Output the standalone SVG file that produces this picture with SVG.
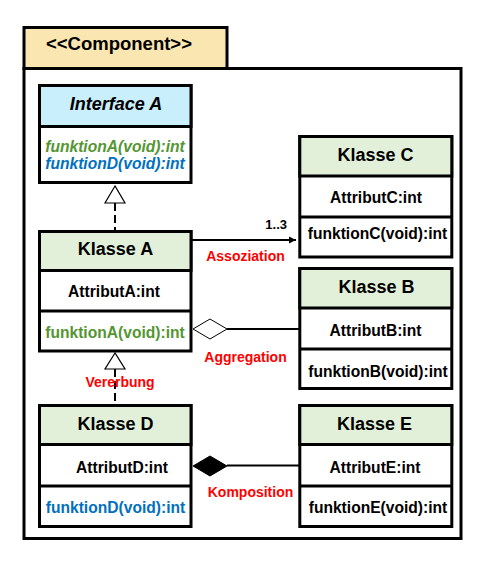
<svg xmlns="http://www.w3.org/2000/svg" width="480" height="564" viewBox="0 0 480 564">
<style>
text{font-family:"Liberation Sans",Arial,sans-serif;font-weight:bold;text-anchor:middle}
.box{fill:#fff;stroke:#000;stroke-width:3}
.hdr{fill:#E2F0D9;stroke:#000;stroke-width:3}
.sep{stroke:#000;stroke-width:3}
.title{font-size:18px;fill:#000}
.body{font-size:15.6px;fill:#000}
.green{fill:#549632}
.blue{fill:#0070C0}
.lbl{font-size:14px;fill:#FF0000}
.ln{stroke:#000;stroke-width:2;fill:none}
.dash{stroke:#000;stroke-width:2;stroke-dasharray:8 4;fill:none}
</style>
<defs>
<marker id="arr" markerWidth="8" markerHeight="8" refX="7" refY="4" orient="auto" markerUnits="userSpaceOnUse">
<path d="M0,0.5 L7,4 L0,7.5 Z" fill="#000"/>
</marker>
</defs>
<g id="component">
<rect x="24" y="27.5" width="203" height="41" fill="#F9E6B1" stroke="#000" stroke-width="3"/>
<rect x="24" y="68.5" width="437" height="470" fill="#fff" stroke="#000" stroke-width="3"/>
<text x="119" y="50" style="font-size:18.5px">&lt;&lt;Component&gt;&gt;</text>
</g>
<g id="connectors">
<line class="dash" x1="115" y1="203" x2="115" y2="230"/>
<path d="M115,186 L105,203 L125,203 Z" fill="#fff" stroke="#000" stroke-width="1.2"/>
<line class="dash" x1="115" y1="369" x2="115" y2="404"/>
<path d="M115,353 L105,369 L125,369 Z" fill="#fff" stroke="#000" stroke-width="1.2"/>
<line class="ln" x1="191" y1="240" x2="296" y2="240" marker-end="url(#arr)"/>
<line class="ln" x1="227" y1="329" x2="299" y2="329"/>
<path d="M193,329 L210,319 L227,329 L210,339 Z" fill="#fff" stroke="#000" stroke-width="1"/>
<line class="ln" x1="227" y1="465.5" x2="301" y2="465.5"/>
<path d="M193,466 L210,456 L227,466 L210,476 Z" fill="#000" stroke="#000" stroke-width="1"/>
<text x="287" y="229" style="font-size:13px;text-anchor:end">1..3</text>
<text class="lbl" x="245.5" y="261">Assoziation</text>
<text class="lbl" x="245.5" y="362">Aggregation</text>
<text class="lbl" x="120" y="387">Vererbung</text>
<text class="lbl" x="250.5" y="497">Komposition</text>
</g>
<g id="interfaceA">
<rect class="box" x="39.5" y="85.5" width="151.5" height="97"/>
<rect x="39.5" y="85.5" width="151.5" height="41" fill="#C9EEFC" stroke="#000" stroke-width="3"/>
<text class="title" x="116" y="110" font-style="italic">Interface A</text>
<text class="body green" x="115" y="152" font-style="italic">funktionA(void):int</text>
<text class="body blue" x="115" y="169" font-style="italic">funktionD(void):int</text>
</g>
<g id="klasseA">
<rect class="box" x="39.5" y="231.5" width="151.5" height="119.5"/>
<rect class="hdr" x="39.5" y="231.5" width="151.5" height="39"/>
<line class="sep" x1="39.5" y1="311" x2="191" y2="311"/>
<text class="title" x="115.5" y="255">Klasse A</text>
<text class="body" x="114" y="297">AttributA:int</text>
<text class="body green" x="115" y="338">funktionA(void):int</text>
</g>
<g id="klasseD">
<rect class="box" x="39.5" y="405.5" width="151.5" height="121"/>
<rect class="hdr" x="39.5" y="405.5" width="151.5" height="39"/>
<line class="sep" x1="39.5" y1="486" x2="191" y2="486"/>
<text class="title" x="115.5" y="430">Klasse D</text>
<text class="body" x="122" y="473">AttributD:int</text>
<text class="body blue" x="115.5" y="513">funktionD(void):int</text>
</g>
<g id="klasseC">
<rect class="box" x="299.8" y="136.5" width="152" height="120.5"/>
<rect class="hdr" x="299.8" y="136.5" width="152" height="39.5"/>
<line class="sep" x1="299.8" y1="217" x2="451.8" y2="217"/>
<text class="title" x="375.5" y="161">Klasse C</text>
<text class="body" x="376" y="203">AttributC:int</text>
<text class="body" x="377.5" y="239">funktionC(void):int</text>
</g>
<g id="klasseB">
<rect class="box" x="299.8" y="268.5" width="152" height="120"/>
<rect class="hdr" x="299.8" y="268.5" width="152" height="39.5"/>
<line class="sep" x1="299.8" y1="349" x2="451.8" y2="349"/>
<text class="title" x="376.5" y="293">Klasse B</text>
<text class="body" x="375.5" y="336">AttributB:int</text>
<text class="body" x="378" y="377">funktionB(void):int</text>
</g>
<g id="klasseE">
<rect class="box" x="299.8" y="405.5" width="152" height="121"/>
<rect class="hdr" x="299.8" y="405.5" width="152" height="39"/>
<line class="sep" x1="299.8" y1="486" x2="451.8" y2="486"/>
<text class="title" x="374.5" y="430">Klasse E</text>
<text class="body" x="375" y="473">AttributE:int</text>
<text class="body" x="378" y="513">funktionE(void):int</text>
</g>
</svg>
